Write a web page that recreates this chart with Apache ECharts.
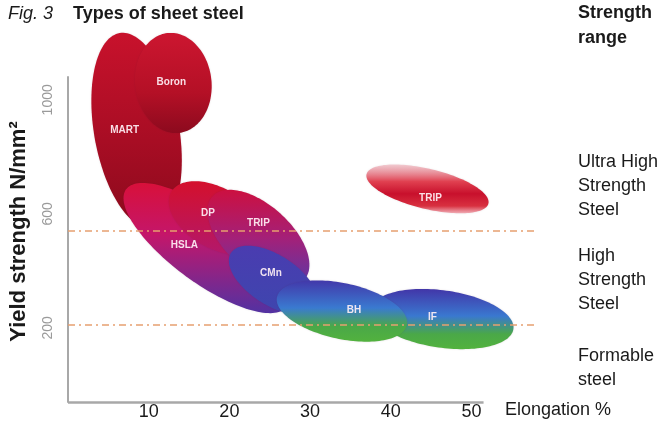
<!DOCTYPE html>
<html>
<head>
<meta charset="utf-8">
<script src="https://cdn.jsdelivr.net/npm/echarts@6/dist/echarts.min.js"></script>
<style>
  html, body { margin: 0; padding: 0; background: #fff; }
  #chart { width: 662px; height: 426px; }
</style>
</head>
<body>
<div id="chart"></div>
<script>
// Each steel family is an elliptical region. Its long axis runs from
// (elongationStart, strengthStart) to (elongationEnd, strengthEnd);
// widthRatio is the short axis as a share of the long one.
const steelNames      = ['MART', 'Boron', 'HSLA', 'DP', 'TRIP', 'CMn', 'IF', 'BH', 'TRIP'];
const elongationStart = [6.4, 12.3, 7.2, 12.8, 17.9, 20.2, 37.6, 25.9, 37.0];
const strengthStart   = [1234, 1234, 686, 677, 661, 463, 266, 308, 739];
const elongationEnd   = [10.6, 13.8, 27.1, 23.9, 29.3, 30.6, 55.2, 42.0, 52.1];
const strengthEnd     = [550, 884, 274, 494, 370, 273, 196, 210, 636];
const widthRatio      = [0.43, 0.76, 0.35, 0.58, 0.53, 0.50, 0.40, 0.42, 0.32];

// Boundaries between formable / high strength / ultra high strength (N/mm²)
const strengthLimits = [210, 540];
const xTicks = [10, 20, 30, 40, 50];
const yTicks = [200, 600, 1000];
const xAxisEnd = 51.5;

const FONT = '"Liberation Sans", Arial, Helvetica, sans-serif';

// Fill colours (top to bottom) and label nudges for each region
const regionStyles = [
  { stops: [[0, '#c8122c'], [0.55, '#a80d24'], [1, '#8a0a1c']], dx: -12, dy: 0 },
  { stops: [[0, '#cc1630'], [0.6, '#b41026'], [1, '#8c0a1e']], dx: -2, dy: -1 },
  { stops: [[0, '#d8103a'], [0.4, '#c4166a'], [1, '#5232a2']], dx: -22, dy: -3 },
  { stops: [[0, '#d4102c'], [1, '#b2186c']], dx: -8, dy: -5 },
  { stops: [[0, '#cc1040'], [0.5, '#a42078'], [1, '#5a38a8']], dx: 0, dy: -15 },
  { stops: [[0, '#4a3cb0'], [1, '#3e46ae']], dx: -2, dy: -7 },
  { stops: [[0, '#4236a8'], [0.45, '#3a78d0'], [0.75, '#4aa848'], [1, '#52b23e']], dx: -10, dy: -2 },
  { stops: [[0, '#4238aa'], [0.45, '#3a7ad0'], [0.75, '#4aa848'], [1, '#52b23e']], dx: 12, dy: -1 },
  { stops: [[0, 'rgba(240,170,180,0.55)'], [0.35, '#e04050'], [0.6, '#c8102c'], [0.85, '#d83040'], [1, 'rgba(240,160,170,0.85)']], dx: 3, dy: 9 }
];

const regionData = steelNames.map((n, i) => [
  elongationStart[i], strengthStart[i], elongationEnd[i], strengthEnd[i], widthRatio[i]
]);

function ellipseGeometry(api) {
  const p1 = api.coord([api.value(0), api.value(1)]);
  const p2 = api.coord([api.value(2), api.value(3)]);
  const cx = (p1[0] + p2[0]) / 2, cy = (p1[1] + p2[1]) / 2;
  const dx = p2[0] - p1[0], dy = p2[1] - p1[1];
  const a = Math.hypot(dx, dy) / 2;
  const b = a * api.value(4);
  return { cx, cy, a, b, ux: dx / (2 * a), uy: dy / (2 * a) };
}

function renderRegion(params, api) {
  const g = ellipseGeometry(api);
  const pts = [];
  const n = 144;
  for (let k = 0; k < n; k++) {
    const t = (k / n) * Math.PI * 2;
    const c = Math.cos(t) * g.a, s = Math.sin(t) * g.b;
    pts.push([g.cx + c * g.ux - s * g.uy, g.cy + c * g.uy + s * g.ux]);
  }
  const st = regionStyles[params.dataIndex];
  return {
    type: 'polygon',
    shape: { points: pts },
    style: {
      fill: new echarts.graphic.LinearGradient(0, 0, 0, 1,
        st.stops.map(s => ({ offset: s[0], color: s[1] }))),
      shadowBlur: 2,
      shadowColor: 'rgba(60,20,40,0.15)'
    }
  };
}

function renderLabel(params, api) {
  const g = ellipseGeometry(api);
  const st = regionStyles[params.dataIndex];
  return {
    type: 'text',
    x: g.cx + st.dx,
    y: g.cy + st.dy,
    style: {
      text: steelNames[params.dataIndex],
      fill: 'rgba(255,240,245,0.92)',
      font: 'bold 10px ' + FONT,
      align: 'center',
      verticalAlign: 'middle'
    }
  };
}

const chart = echarts.init(document.getElementById('chart'), null, { renderer: 'canvas' });

const textColor = '#1a1a1a';
const rightTexts = [
  ['Strength', 14, true], ['range', 39, true],
  ['Ultra High', 163, false], ['Strength', 187, false], ['Steel', 211, false],
  ['High', 257, false], ['Strength', 281, false], ['Steel', 305, false],
  ['Formable', 357, false], ['steel', 381, false]
];

chart.setOption({
  animation: false,
  backgroundColor: '#fff',
  grid: { left: 66, right: 126, top: 77, bottom: 24, containLabel: false },
  xAxis: {
    type: 'value', min: 0, max: 58, interval: 10,
    axisLine: { show: false },
    axisTick: { show: false },
    splitLine: { show: false },
    axisLabel: {
      customValues: xTicks,
      color: textColor, fontSize: 18, fontFamily: FONT, margin: 1
    }
  },
  yAxis: {
    type: 'value', min: -60, max: 1080,
    name: 'Yield strength N/mm²',
    nameLocation: 'middle', nameRotate: 90, nameGap: 38,
    nameTextStyle: {
      color: textColor, fontSize: 22, fontWeight: 'bold', fontFamily: FONT,
      padding: [0, 0, 0, 16]
    },
    axisLine: { show: true, lineStyle: { color: '#a8a8a8', width: 2 } },
    axisTick: { show: false },
    splitLine: { show: false },
    axisLabel: {
      customValues: yTicks, rotate: 90,
      formatter: v => String(v),
      color: '#9a9a9a', fontSize: 14, fontFamily: FONT, margin: 13
    }
  },
  graphic: [
    { type: 'text', left: 8, top: 5, style: { text: 'Fig. 3', font: 'italic 18px ' + FONT, fill: textColor } },
    { type: 'text', left: 73, top: 5, style: { text: 'Types of sheet steel', font: 'bold 18px ' + FONT, fill: textColor } },
    { type: 'text', left: 505, top: 401, style: { text: 'Elongation %', font: '18px ' + FONT, fill: textColor } }
  ].concat(rightTexts.map(t => ({
    type: 'text', left: 578, top: t[1] - 10,
    style: { text: t[0], font: (t[2] ? 'bold ' : '') + '18px ' + FONT, fill: textColor }
  }))),
  series: [
    {
      type: 'line', data: [], silent: true,
      markLine: {
        silent: true, symbol: 'none', animation: false,
        label: { show: false },
        data: strengthLimits.map(v => [
          { coord: [0, v], lineStyle: { color: '#e6a070', width: 1.5, type: [7, 4, 2, 4] } },
          { coord: [58, v] }
        ]).concat([[
          { coord: [0, -60], lineStyle: { color: '#a8a8a8', width: 2.5, type: 'solid' } },
          { coord: [xAxisEnd, -60] }
        ]])
      }
    },
    {
      type: 'custom', renderItem: renderRegion, data: regionData,
      encode: { x: [0, 2], y: [1, 3] }, silent: true, z: 3
    },
    {
      type: 'custom', renderItem: renderLabel, data: regionData,
      encode: { x: [0, 2], y: [1, 3] }, silent: true, z: 5
    }
  ]
});
</script>
</body>
</html>
